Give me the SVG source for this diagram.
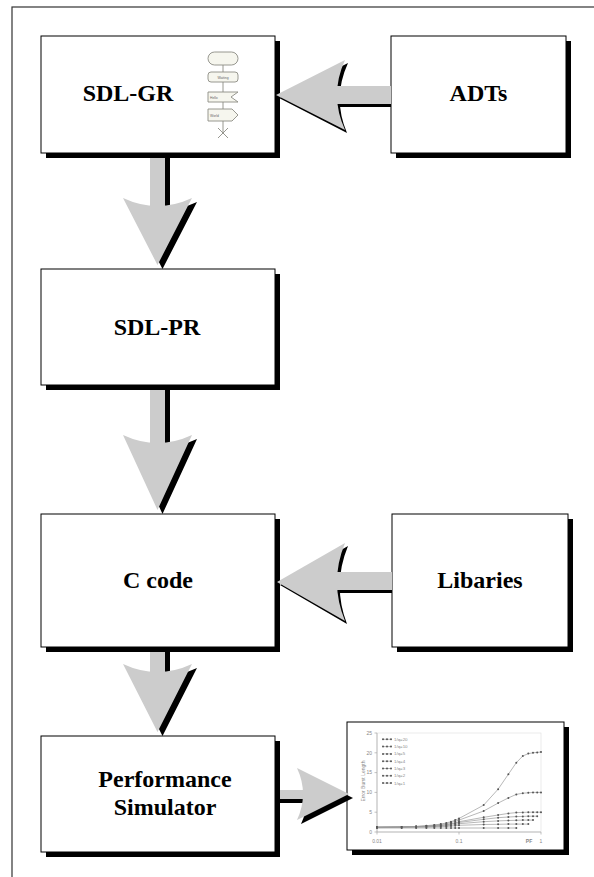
<svg xmlns="http://www.w3.org/2000/svg" width="594" height="877" viewBox="0 0 594 877">
  <style>
    .box { fill: #fff; stroke: #000; stroke-width: 1; }
    .shd { fill: #000; }
    .lbl { font-family: "Liberation Serif", "Times New Roman", serif; font-weight: bold; font-size: 24px; text-anchor: middle; fill: #000; }
    .arw { fill: #cccccc; }
    .ico { fill: #f6f6ee; stroke: #8c8c84; stroke-width: 0.9; }
    .icl { stroke: #8c8c84; stroke-width: 0.9; fill: none; }
    .ict { font-family: "Liberation Sans", Arial, sans-serif; font-size: 3.4px; fill: #666; }
    .ax { stroke: #a8a8a8; stroke-width: 0.7; fill: none; }
    .grd { stroke: #e2e2e2; stroke-width: 0.7; fill: none; }
    .tk { font-family: "Liberation Sans", Arial, sans-serif; font-size: 5px; fill: #888; }
    .lg { font-family: "Liberation Sans", Arial, sans-serif; font-size: 4.4px; fill: #8a8a8a; }
    .crv { fill: none; stroke: #9a9a9a; stroke-width: 0.7; marker-start: url(#dot); marker-mid: url(#dot); marker-end: url(#dot); }
  </style>
  <defs>
    <marker id="dot" markerWidth="3" markerHeight="3" refX="1.5" refY="1.5" markerUnits="userSpaceOnUse">
      <circle cx="1.5" cy="1.5" r="1" fill="#555"/>
    </marker>
  </defs>

  <!-- page frame -->
  <rect x="12" y="7" width="620" height="900" fill="none" stroke="#333" stroke-width="1.2"/>

  <!-- nodes -->
  <g id="sdl-gr">
    <rect class="shd" x="46" y="41" width="234" height="117"/>
    <rect class="box" x="41" y="36" width="234" height="117"/>
    <text class="lbl" x="128" y="101">SDL-GR</text>
    <!-- small SDL flow sketch -->
    <g id="sdl-icon">
      <rect class="ico" x="208" y="52" width="30" height="13" rx="6.5"/>
      <line class="icl" x1="223" y1="65" x2="223" y2="72"/>
      <rect class="ico" x="208" y="72" width="30" height="10" rx="3"/>
      <text class="ict" x="223" y="78.5" text-anchor="middle">Waiting</text>
      <line class="icl" x1="223" y1="82" x2="223" y2="92"/>
      <path class="ico" d="M208,92 H238 L231,97 L238,102 H208 Z"/>
      <text class="ict" x="210" y="98.5">Hello</text>
      <line class="icl" x1="223" y1="102" x2="223" y2="109"/>
      <path class="ico" d="M208,109 H232 L238,115 L232,121 H208 Z"/>
      <text class="ict" x="210" y="116.5">World</text>
      <line class="icl" x1="223" y1="121" x2="223" y2="134"/>
      <line class="icl" x1="218" y1="128" x2="228" y2="138"/>
      <line class="icl" x1="228" y1="128" x2="218" y2="138"/>
    </g>
  </g>

  <g id="adts">
    <rect class="shd" x="396" y="41" width="175" height="117"/>
    <rect class="box" x="391" y="36" width="175" height="117"/>
    <text class="lbl" x="478.5" y="101">ADTs</text>
  </g>

  <g id="sdl-pr">
    <rect class="shd" x="46" y="274" width="234" height="116"/>
    <rect class="box" x="41" y="269" width="234" height="116"/>
    <text class="lbl" x="157" y="335">SDL-PR</text>
  </g>

  <g id="c-code">
    <rect class="shd" x="46" y="519" width="234" height="133"/>
    <rect class="box" x="41" y="514" width="234" height="133"/>
    <text class="lbl" x="158" y="588">C code</text>
  </g>

  <g id="libaries">
    <rect class="shd" x="397" y="519" width="176" height="133"/>
    <rect class="box" x="392" y="514" width="176" height="133"/>
    <text class="lbl" x="480" y="588">Libaries</text>
  </g>

  <g id="performance-simulator">
    <rect class="shd" x="46" y="741" width="234" height="116"/>
    <rect class="box" x="41" y="736" width="234" height="116"/>
    <text class="lbl" x="165" y="787">Performance</text>
    <text class="lbl" x="165" y="815">Simulator</text>
  </g>

  <g id="results-chart">
    <rect class="shd" x="352" y="727" width="217" height="128"/>
    <rect class="box" x="347" y="722" width="217" height="128" stroke-width="1.2"/>
    <!-- plot area -->
    <rect class="grd" x="377" y="733" width="164" height="99"/>
    <path class="ax" d="M377,733 V832 H541 M374.5,733 H377 M374.5,752.8 H377 M374.5,772.6 H377 M374.5,792.4 H377 M374.5,812.2 H377 M374.5,832 H377 M377,832 V834.5 M459,832 V834.5 M541,832 V834.5"/>
    <text class="tk" x="372" y="734.8" text-anchor="end">25</text>
    <text class="tk" x="372" y="754.6" text-anchor="end">20</text>
    <text class="tk" x="372" y="774.4" text-anchor="end">15</text>
    <text class="tk" x="372" y="794.2" text-anchor="end">10</text>
    <text class="tk" x="372" y="814" text-anchor="end">5</text>
    <text class="tk" x="372" y="833.8" text-anchor="end">0</text>
    <text class="tk" x="377" y="843" text-anchor="middle">0.01</text>
    <text class="tk" x="459" y="843" text-anchor="middle">0.1</text>
    <text class="tk" x="541" y="843" text-anchor="middle">1</text>
    <text class="tk" x="529" y="843" text-anchor="middle" font-weight="bold">PF</text>
    <text class="tk" font-size="4.6" text-anchor="middle" transform="translate(364.5,781) rotate(-90)">Error Burst Length</text>
    <!-- legend -->
    <g>
      <polyline class="crv" points="383,739.3 387,739.3 391,739.3"/>
      <text class="lg" x="394" y="740.8">1/q=20</text>
      <polyline class="crv" points="383,746.6 387,746.6 391,746.6"/>
      <text class="lg" x="394" y="748.1">1/q=10</text>
      <polyline class="crv" points="383,753.9 387,753.9 391,753.9"/>
      <text class="lg" x="394" y="755.4">1/q=5</text>
      <polyline class="crv" points="383,761.2 387,761.2 391,761.2"/>
      <text class="lg" x="394" y="762.7">1/q=4</text>
      <polyline class="crv" points="383,768.5 387,768.5 391,768.5"/>
      <text class="lg" x="394" y="770">1/q=3</text>
      <polyline class="crv" points="383,775.8 387,775.8 391,775.8"/>
      <text class="lg" x="394" y="777.3">1/q=2</text>
      <polyline class="crv" points="383,783.1 387,783.1 391,783.1"/>
      <text class="lg" x="394" y="784.6">1/q=1</text>
    </g>
    <!-- data series -->
    <polyline class="crv" points="377,827.2 401.7,826.9 416.1,826.5 426.4,825.7 434.3,824.9 440.8,824.1 446.3,822.9 451,821.7 455.2,820.1 459,818.5 483.7,805.1 498.1,789.2 508.4,774.2 516.3,762.7 522.8,756 528.3,753.6 533,752.8 537.2,752.4 541,752"/>
    <polyline class="crv" points="377,827.2 401.7,826.9 416.1,826.5 426.4,826.1 434.3,825.3 440.8,824.5 446.3,823.7 451,822.5 455.2,821.3 459,820.1 483.7,811 498.1,803.1 508.4,797.9 516.3,794.4 522.8,793.2 528.3,792.8 533,792.4 537.2,792.4 541,792.4"/>
    <polyline class="crv" points="377,827.2 401.7,826.9 416.1,826.5 426.4,826.1 434.3,825.7 440.8,825.3 446.3,824.5 451,823.7 455.2,822.9 459,821.7 483.7,817.3 498.1,815 508.4,813.4 516.3,812.6 522.8,812.4 528.3,812.2 533,812.2 537.2,812.2 541,812.2"/>
    <polyline class="crv" points="377,827.2 401.7,826.9 416.1,826.7 426.4,826.5 434.3,826.1 440.8,825.7 446.3,824.9 451,824.1 455.2,823.3 459,822.5 483.7,819.3 498.1,817.7 508.4,817 516.3,816.6 522.8,816.4 528.3,816.2 533,816.2 537.2,816.2"/>
    <polyline class="crv" points="377,827.2 401.7,827.1 416.1,826.9 426.4,826.7 434.3,826.5 440.8,826.1 446.3,825.7 451,825.3 455.2,824.5 459,823.7 483.7,821.7 498.1,820.9 508.4,820.5 516.3,820.3 522.8,820.1 528.3,820.1 533,820.1"/>
    <polyline class="crv" points="377,827.6 401.7,827.4 416.1,827.2 426.4,827.1 434.3,826.9 440.8,826.7 446.3,826.5 451,826.1 455.2,825.7 459,825.3 483.7,824.5 498.1,824.3 508.4,824.1 516.3,824.1 522.8,824.1 528.3,824.1"/>
    <polyline class="crv" points="377,828 401.7,828 416.1,828 426.4,828 434.3,828 440.8,828 446.3,828 451,828 455.2,828 459,828 483.7,828 498.1,828 508.4,828 516.3,828"/>
  </g>

  <!-- connectors: block arrows with a drop shadow -->
  <g id="connectors">
    <!-- SDL-GR to SDL-PR -->
    <g id="gr-to-pr">
      <rect class="shd" x="155" y="158" width="15" height="54"/>
      <path class="shd" d="M128,202 Q162.5,218 197,202 L162.5,269 Z"/>
      <rect class="arw" x="150" y="158" width="15" height="50"/>
      <path class="arw" d="M123,198 Q157.5,214 192,198 L157.5,265 Z"/>
    </g>
    <!-- SDL-PR to C code -->
    <g id="pr-to-c">
      <rect class="shd" x="155" y="390" width="15" height="59"/>
      <path class="shd" d="M128,439 Q162.5,455 197,439 L162.5,514 Z"/>
      <rect class="arw" x="150" y="390" width="15" height="55"/>
      <path class="arw" d="M123,435 Q157.5,451 192,435 L157.5,510 Z"/>
    </g>
    <!-- C code to Performance Simulator -->
    <g id="c-to-sim">
      <rect class="shd" x="155" y="652" width="15" height="26"/>
      <path class="shd" d="M128,668 Q162.5,684 197,668 L162.5,736 Z"/>
      <rect class="arw" x="150" y="652" width="15" height="22"/>
      <path class="arw" d="M123,664 Q157.5,680 192,664 L157.5,732 Z"/>
    </g>
    <!-- ADTs to SDL-GR -->
    <g id="adts-to-gr">
      <rect class="shd" x="338" y="89" width="53" height="18"/>
      <path class="shd" d="M348,63 Q332,98 347,133 L279,98 Z"/>
      <rect class="arw" x="335" y="86" width="56" height="18"/>
      <path class="arw" d="M345,60 Q329,95 345,130 L276,95 Z"/>
    </g>
    <!-- Libaries to C code -->
    <g id="lib-to-c">
      <rect class="shd" x="338" y="575" width="54" height="18"/>
      <path class="shd" d="M348,546 Q332,585 347,624 L280,585 Z"/>
      <rect class="arw" x="335" y="572" width="57" height="18"/>
      <path class="arw" d="M345,543 Q329,582 345,621 L277,582 Z"/>
    </g>
    <!-- Performance Simulator to results chart -->
    <g id="sim-to-chart">
      <rect class="shd" x="280" y="795" width="24" height="8"/>
      <path class="shd" d="M301,772 Q313,798 301,824 L353,798 Z"/>
      <rect class="arw" x="280" y="790" width="24" height="9"/>
      <path class="arw" d="M297,768 Q309,794 297,820 L349,794 Z"/>
    </g>
  </g>
</svg>
